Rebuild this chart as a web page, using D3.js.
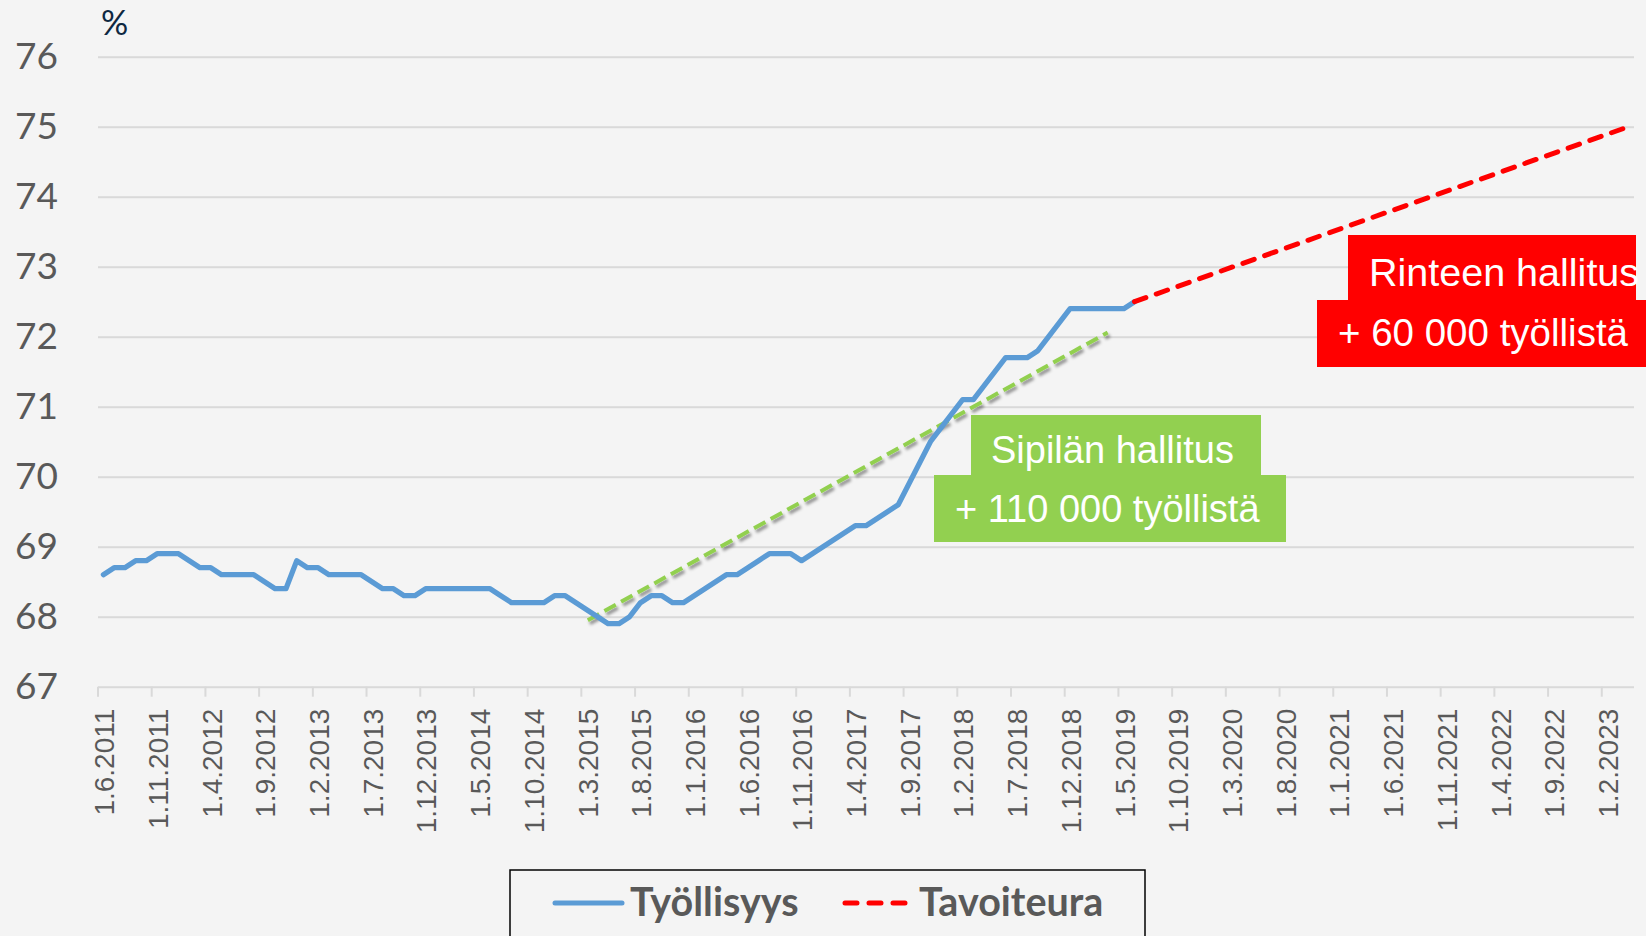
<!DOCTYPE html>
<html>
<head>
<meta charset="utf-8">
<script src="https://cdn.jsdelivr.net/npm/d3@7/dist/d3.min.js"></script>
<style>
    html, body { margin: 0; padding: 0; background: #f4f4f4; }
    svg { display: block; }
</style>
</head>
<body>
<div id="chart"></div>
<script>
// Months on the category axis: 6/2011 .. 4/2023
const firstMonth = new Date(2011, 5, 1);
const afterLastMonth = new Date(2023, 4, 1);

const tickLabels = [
    "1.6.2011", "1.11.2011", "1.4.2012", "1.9.2012", "1.2.2013", "1.7.2013",
    "1.12.2013", "1.5.2014", "1.10.2014", "1.3.2015", "1.8.2015", "1.1.2016",
    "1.6.2016", "1.11.2016", "1.4.2017", "1.9.2017", "1.2.2018", "1.7.2018",
    "1.12.2018", "1.5.2019", "1.10.2019", "1.3.2020", "1.8.2020", "1.1.2021",
    "1.6.2021", "1.11.2021", "1.4.2022", "1.9.2022", "1.2.2023"
];

const yTicks = [67, 68, 69, 70, 71, 72, 73, 74, 75, 76];

// Työllisyysaste, % (trend), monthly from 6/2011
const tyollisyys = [
    68.6, 68.7, 68.7, 68.8, 68.8, 68.9, 68.9, 68.9, 68.8, 68.7, 68.7, 68.6,
    68.6, 68.6, 68.6, 68.5, 68.4, 68.4, 68.8, 68.7, 68.7, 68.6, 68.6, 68.6,
    68.6, 68.5, 68.4, 68.4, 68.3, 68.3, 68.4, 68.4, 68.4, 68.4, 68.4, 68.4,
    68.4, 68.3, 68.2, 68.2, 68.2, 68.2, 68.3, 68.3, 68.2, 68.1, 68.0, 67.9,
    67.9, 68.0, 68.2, 68.3, 68.3, 68.2, 68.2, 68.3, 68.4, 68.5, 68.6, 68.6,
    68.7, 68.8, 68.9, 68.9, 68.9, 68.8, 68.9, 69.0, 69.1, 69.2, 69.3, 69.3,
    69.4, 69.5, 69.6, 69.9, 70.2, 70.5, 70.7, 70.9, 71.1, 71.1, 71.3, 71.5,
    71.7, 71.7, 71.7, 71.8, 72.0, 72.2, 72.4, 72.4, 72.4, 72.4, 72.4, 72.4,
    72.5
];

// Tavoiteura: from 6/2019 to 75 % at the end of the axis
const tavoiteuraMonths = ["1.6.2019", "1.4.2023"];
const tavoiteuraValues = [72.5, 75.0];

// Sipilän hallituksen trendiviiva (month position, value)
const trendPos = [45.1, 93.5];
const trendValues = [67.95, 72.06];

const W = 1646, H = 936;
const plot = { left: 98, right: 1634, top: 56.7, bottom: 686.7 };

const fmt = d3.timeFormat("%-d.%-m.%Y");
const categories = d3.timeMonth.range(firstMonth, afterLastMonth).map(fmt);

const svg = d3.select("#chart").append("svg")
    .attr("width", W)
    .attr("height", H);

svg.append("rect").attr("width", W).attr("height", H).attr("fill", "#f4f4f4");

const defs = svg.append("defs");
defs.append("filter")
    .attr("id", "shadow")
    .attr("x", "-10%").attr("y", "-10%").attr("width", "120%").attr("height", "130%")
    .append("feDropShadow")
    .attr("dx", 2).attr("dy", 3).attr("stdDeviation", 1.6)
    .attr("flood-color", "#000").attr("flood-opacity", 0.4);

const x = d3.scaleBand()
    .domain(categories)
    .range([plot.left, plot.right])
    .padding(0);

const cx = c => x(c) + x.bandwidth() / 2;
const atPos = p => plot.left + (p + 0.5) * x.step();

const y = d3.scaleLinear()
    .domain([67, 76])
    .range([plot.bottom, plot.top]);

// Gridlines + y labels
const yAxis = svg.append("g")
    .attr("transform", `translate(${plot.left},0)`)
    .call(d3.axisLeft(y).tickValues(yTicks).tickSize(-(plot.right - plot.left)).tickPadding(40).tickFormat(d3.format("d")));
yAxis.select(".domain").remove();
yAxis.selectAll(".tick line").attr("stroke", "#d9d9d9").attr("stroke-width", 2);
yAxis.selectAll(".tick text")
    .attr("fill", "#595959")
    .attr("font-family", "Lato, Calibri, sans-serif")
    .attr("font-size", 37);

svg.append("text")
    .attr("x", 101)
    .attr("y", 35)
    .attr("fill", "#0e2841")
    .attr("font-family", "Lato, Calibri, sans-serif")
    .attr("font-size", 34)
    .text("%");

// Tick marks at category boundaries
const xTicks = svg.append("g")
    .attr("transform", `translate(0,${plot.bottom})`)
    .call(d3.axisBottom(x).tickValues(tickLabels).tickSize(10).tickFormat(""));
xTicks.select(".domain").remove();
xTicks.selectAll(".tick line")
    .attr("x1", -x.bandwidth() / 2).attr("x2", -x.bandwidth() / 2)
    .attr("stroke", "#d9d9d9").attr("stroke-width", 2);

// Rotated month labels
const xLabels = svg.append("g")
    .attr("transform", `translate(0,${plot.bottom})`)
    .call(d3.axisBottom(x).tickValues(tickLabels).tickSize(0));
xLabels.select(".domain").remove();
xLabels.selectAll(".tick text")
    .attr("transform", "rotate(-90)")
    .attr("x", -22)
    .attr("y", 1)
    .attr("dy", "0.35em")
    .attr("text-anchor", "end")
    .attr("fill", "#595959")
    .attr("font-family", "'Liberation Sans', Arial, sans-serif")
    .attr("font-size", 28);

// Sipilä trend (green dashed with shadow)
svg.append("path")
    .datum(d3.zip(trendPos, trendValues))
    .attr("fill", "none")
    .attr("stroke", "#92d050")
    .attr("stroke-width", 4)
    .attr("stroke-dasharray", "13,6")
    .attr("filter", "url(#shadow)")
    .attr("d", d3.line().x(d => atPos(d[0])).y(d => y(d[1])));

// Työllisyys
svg.append("path")
    .datum(tyollisyys)
    .attr("fill", "none")
    .attr("stroke", "#5b9bd5")
    .attr("stroke-width", 5.2)
    .attr("stroke-linejoin", "round")
    .attr("stroke-linecap", "round")
    .attr("d", d3.line().x((d, i) => cx(categories[i])).y(d => y(d)));

// Tavoiteura
svg.append("path")
    .datum(d3.zip(tavoiteuraMonths, tavoiteuraValues))
    .attr("fill", "none")
    .attr("stroke", "#ff0000")
    .attr("stroke-width", 5)
    .attr("stroke-linecap", "round")
    .attr("stroke-dasharray", "12,11")
    .attr("d", d3.line().x(d => cx(d[0])).y(d => y(d[1])));

// Annotation boxes
const boxes = [
    { x: 971, y: 415, w: 290, h: 61, fill: "#92d050", text: "Sipilän hallitus", tx: 991, ty: 463, size: 38 },
    { x: 934, y: 475, w: 352, h: 67, fill: "#92d050", text: "+ 110 000 työllistä", tx: 955, ty: 522, size: 38 },
    { x: 1348, y: 235, w: 288, h: 66, fill: "#ff0000", text: "Rinteen hallitus", tx: 1369, ty: 286, size: 39.5 },
    { x: 1317, y: 300, w: 340, h: 67, fill: "#ff0000", text: "+ 60 000 työllistä", tx: 1338, ty: 346, size: 38.5 }
];

const notes = svg.append("g");
notes.selectAll("rect").data(boxes).join("rect")
    .attr("x", d => d.x).attr("y", d => d.y)
    .attr("width", d => d.w).attr("height", d => d.h)
    .attr("fill", d => d.fill);
notes.selectAll("text").data(boxes).join("text")
    .attr("x", d => d.tx).attr("y", d => d.ty)
    .attr("fill", "#ffffff")
    .attr("font-family", "'Liberation Sans', Arial, sans-serif")
    .attr("font-size", d => d.size)
    .text(d => d.text);

// Legend
const legend = svg.append("g");
legend.append("rect")
    .attr("x", 510).attr("y", 870)
    .attr("width", 635).attr("height", 90)
    .attr("fill", "none")
    .attr("stroke", "#000")
    .attr("stroke-width", 1.5);
legend.append("line")
    .attr("x1", 555).attr("x2", 622).attr("y1", 903).attr("y2", 903)
    .attr("stroke", "#5b9bd5").attr("stroke-width", 5).attr("stroke-linecap", "round");
legend.append("text")
    .attr("x", 630).attr("y", 916)
    .attr("fill", "#595959")
    .attr("font-family", "Lato, Calibri, sans-serif")
    .attr("font-weight", "bold")
    .attr("font-size", 39.5)
    .text("Työllisyys");
legend.append("line")
    .attr("x1", 845).attr("x2", 906).attr("y1", 903).attr("y2", 903)
    .attr("stroke", "#ff0000").attr("stroke-width", 5).attr("stroke-linecap", "round")
    .attr("stroke-dasharray", "12,12");
legend.append("text")
    .attr("x", 919).attr("y", 916)
    .attr("fill", "#595959")
    .attr("font-family", "Lato, Calibri, sans-serif")
    .attr("font-weight", "bold")
    .attr("font-size", 39.5)
    .text("Tavoiteura");
</script>
</body>
</html>
